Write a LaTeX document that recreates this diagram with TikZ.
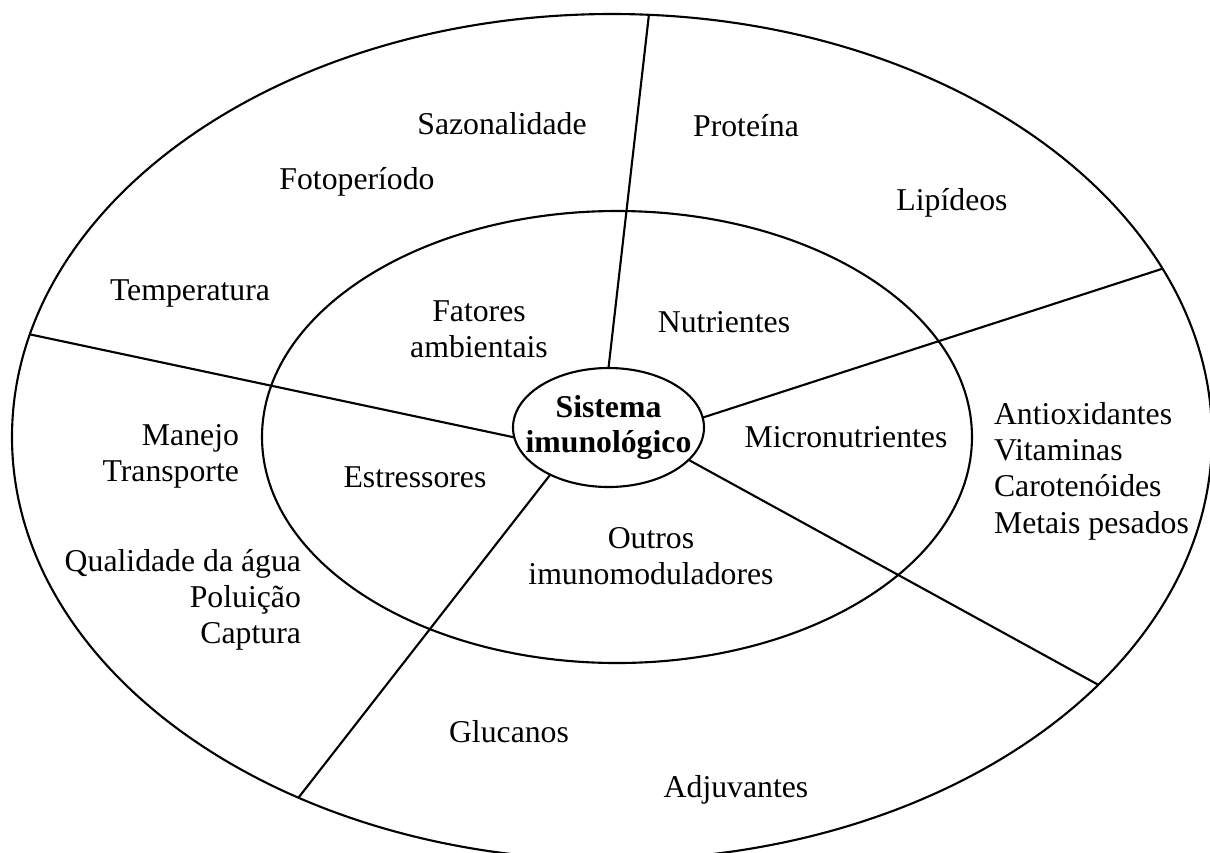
\documentclass[tikz,border=0pt]{standalone}
\usepackage{fontspec}
\setmainfont{Liberation Serif}
\usepackage{tikz}
\usetikzlibrary{shapes.geometric}
\newcommand{\pxu}{0.378pt}

\begin{document}
\begin{tikzpicture}[x=\pxu, y=-\pxu, line width=0.8pt]
    \tikzstyle{ring}=[ellipse, draw, inner sep=0pt, outer sep=0pt]
    \tikzstyle{annot}=[font=\fontsize{12}{13.7}\selectfont, inner sep=0pt]

    \useasboundingbox (0,0) rectangle (1210,852);
    \clip (0,0) rectangle (1210,852);

    \node[ring, minimum width=1200*\pxu, minimum height=846*\pxu] (outer) at (612,437) {};
    \node[ring, minimum width=710*\pxu, minimum height=452*\pxu] (inner) at (617,437) {};
    \node[ring, minimum width=191*\pxu, minimum height=119*\pxu] (sys) at (608.5,427.5) {};
    \node[annot, font=\fontsize{12}{13}\selectfont\bfseries, align=center] (syslbl) at (sys) {Sistema\\imunológico};

    % spokes
    \foreach \a/\b in {90.75/85, 6.9/17.7, 338.1/333.3, 219.7/229.7, 186.8/170.6}{%
          \draw (sys.\a) -- (outer.\b);
		}

    % Labels
    \foreach \t/\x/\y [count=\i] in {Sazonalidade/502/124, Fotoperíodo/357/182,
        Temperatura/190/293, Proteína/746/126, Lipídeos/952/203,
        Nutrientes/724/322, Micronutrientes/846/437, Estressores/415/477,
        Glucanos/509/732, Adjuvantes/736/790}{%
          \node[annot] (lbl\i) at (\x,\y) {\t};
		}
    \node[annot, align=center] (fatores) at (479,329) {Fatores\\ambientais};
    \node[annot, align=center] (outros) at (651,556) {Outros\\imunomoduladores};
    \node[annot, align=right, anchor=east] (manejo) at (240,456) {Manejo\\Transporte};
    \node[annot, align=right, anchor=east] (agua) at (302,600) {Qualidade da água\\Poluição\\Captura};
    \node[annot, align=left, anchor=west] (antiox) at (993,471) {Antioxidantes\\Vitaminas\\Carotenóides\\Metais pesados};
\end{tikzpicture}
\end{document}
